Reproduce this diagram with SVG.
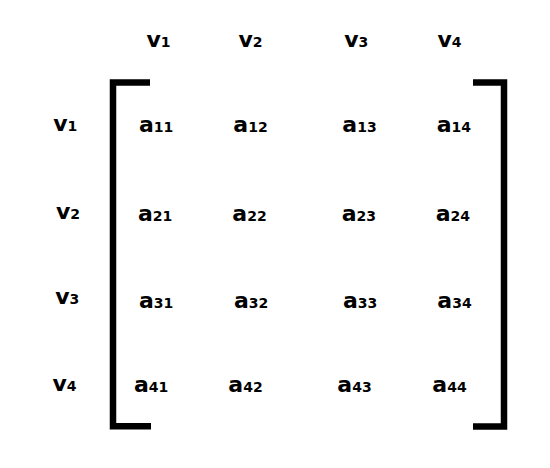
<svg xmlns="http://www.w3.org/2000/svg" width="550" height="468" viewBox="0 0 550 468">
<style>
text{font-family:"DejaVu Sans","Verdana",sans-serif;font-weight:bold;font-size:22px;fill:#000}
.s{font-size:14px}
.br{fill:none;stroke:#000;stroke-width:6.5;stroke-linecap:butt;stroke-linejoin:miter}
</style>
<rect width="550" height="468" fill="#fff"/>
<g id="brackets">
<path class="br" d="M150,82.5 H113 V426.3 H151"/>
<path class="br" d="M473,82.5 H504 V426.5 H473"/>
</g>
<g id="col-headers">
<text x="146.5" y="46.7">v<tspan class="s">1</tspan></text>
<text x="238.5" y="46.7">v<tspan class="s">2</tspan></text>
<text x="344.2" y="46.7">v<tspan class="s">3</tspan></text>
<text x="437.5" y="46.7">v<tspan class="s">4</tspan></text>
</g>
<g id="row-headers">
<text x="53.2" y="130.5">v<tspan class="s">1</tspan></text>
<text x="55.9" y="218.5">v<tspan class="s">2</tspan></text>
<text x="55.2" y="303.5">v<tspan class="s">3</tspan></text>
<text x="52.5" y="390.7">v<tspan class="s">4</tspan></text>
</g>
<g id="row1">
<text x="139" y="131.7">a<tspan class="s">11</tspan></text>
<text x="233.3" y="131.7">a<tspan class="s">12</tspan></text>
<text x="342.3" y="131.7">a<tspan class="s">13</tspan></text>
<text x="436.7" y="131.7">a<tspan class="s">14</tspan></text>
</g>
<g id="row2">
<text x="138" y="220.5">a<tspan class="s">21</tspan></text>
<text x="232.3" y="220.5">a<tspan class="s">22</tspan></text>
<text x="341.7" y="220.5">a<tspan class="s">23</tspan></text>
<text x="435.7" y="220.5">a<tspan class="s">24</tspan></text>
</g>
<g id="row3">
<text x="139" y="307.5">a<tspan class="s">31</tspan></text>
<text x="234" y="307.5">a<tspan class="s">32</tspan></text>
<text x="343" y="307.5">a<tspan class="s">33</tspan></text>
<text x="437.3" y="307.5">a<tspan class="s">34</tspan></text>
</g>
<g id="row4">
<text x="134" y="392">a<tspan class="s">41</tspan></text>
<text x="228.3" y="392">a<tspan class="s">42</tspan></text>
<text x="337.3" y="392">a<tspan class="s">43</tspan></text>
<text x="432.3" y="392">a<tspan class="s">44</tspan></text>
</g>
</svg>
